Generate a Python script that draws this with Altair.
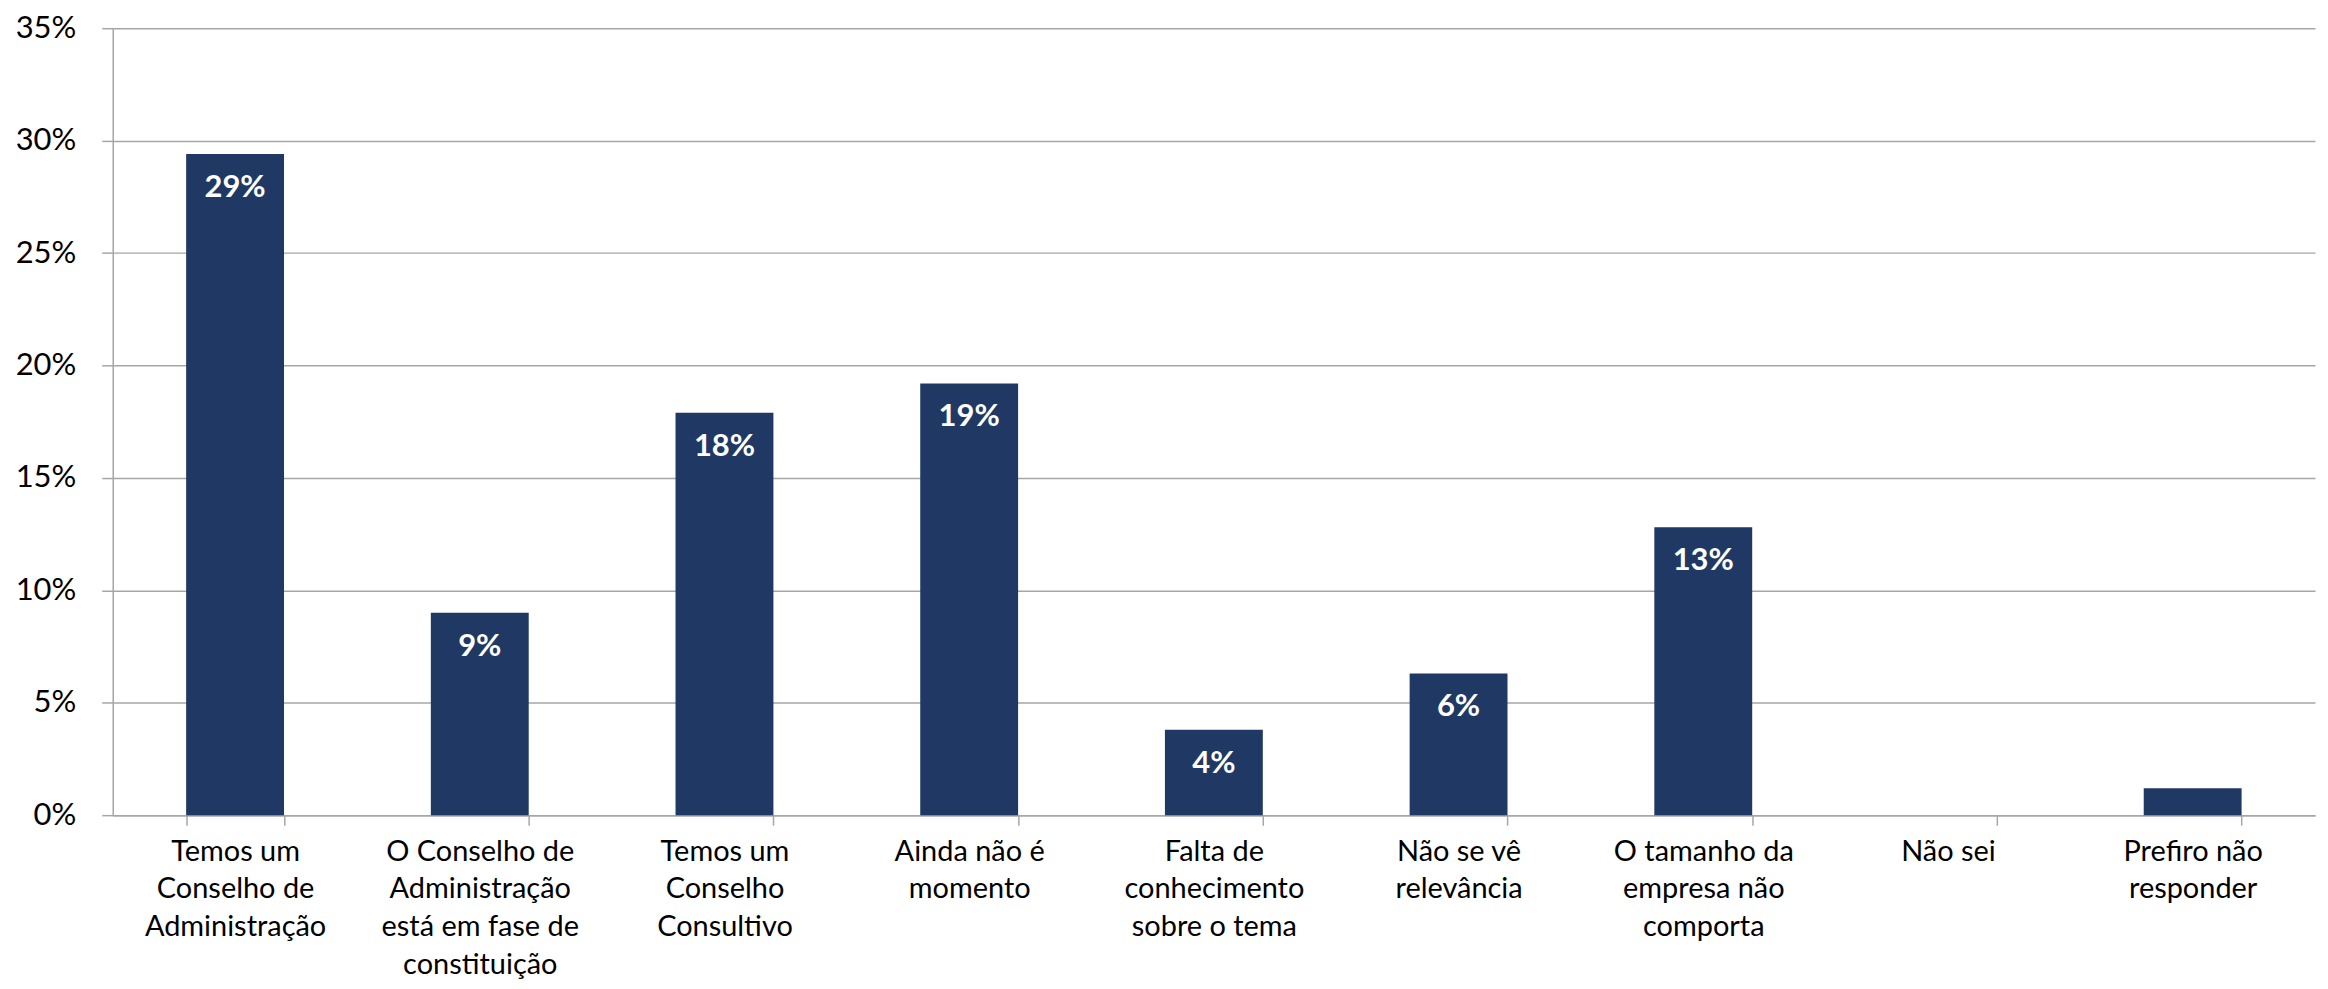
import altair as alt
import pandas as pd

categories = [
    "Temos um\nConselho de\nAdministração",
    "O Conselho de\nAdministração\nestá em fase de\nconstituição",
    "Temos um\nConselho\nConsultivo",
    "Ainda não é\nmomento",
    "Falta de\nconhecimento\nsobre o tema",
    "Não se vê\nrelevância",
    "O tamanho da\nempresa não\ncomporta",
    "Não sei",
    "Prefiro não\nresponder",
]
values = [29.4, 9.0, 17.9, 19.2, 3.8, 6.3, 12.8, 0.0, 1.2]
value_labels = ["29%", "9%", "18%", "19%", "4%", "6%", "13%", "", "1%"]
y_ticks = [0, 5, 10, 15, 20, 25, 30, 35]

df = pd.DataFrame({"cat": categories, "val": values, "lab": value_labels})

FONT = "Lato"
GRID = "#a6a6a6"

x_enc = alt.X(
    "cat:N",
    sort=categories,
    scale=alt.Scale(paddingInner=0.6, paddingOuter=0.3),
    axis=alt.Axis(
        title=None,
        labelAngle=0,
        labelExpr="split(datum.label, '\\n')",
        labelFont=FONT,
        labelFontSize=29,
        labelLineHeight=38,
        labelColor="#000000",
        labelPadding=12,
        labelBaseline="top",
        labelLimit=400,
        domainColor=GRID,
        domainWidth=1.5,
        tickColor=GRID,
        tickWidth=1.5,
        tickSize=10,
        tickBand="extent",
        grid=False,
    ),
)

y_enc = alt.Y(
    "val:Q",
    scale=alt.Scale(domain=[0, 35], nice=False),
    axis=alt.Axis(
        title=None,
        values=y_ticks,
        labelExpr="datum.value + '%'",
        labelFont=FONT,
        labelFontSize=31,
        labelColor="#000000",
        labelPadding=26,
        domainColor=GRID,
        domainWidth=1.5,
        tickColor=GRID,
        tickWidth=1.5,
        tickSize=11,
        gridColor=GRID,
        gridWidth=1.5,
    ),
)

bars = alt.Chart(df).mark_bar(color="#203864").encode(x=x_enc, y=y_enc)

labels_in = (
    alt.Chart(df)
    .transform_filter("datum.val >= 2")
    .mark_text(color="white", font=FONT, fontWeight="bold", fontSize=31, baseline="middle", dy=34)
    .encode(x=alt.X("cat:N", sort=categories), y="val:Q", text="lab:N")
)

labels_small = (
    alt.Chart(df)
    .transform_filter("datum.val > 0 && datum.val < 2")
    .mark_text(color="white", font=FONT, fontWeight="bold", fontSize=31, baseline="middle", dy=-10)
    .encode(x=alt.X("cat:N", sort=categories), y="val:Q", text="lab:N")
)

chart = (
    alt.layer(bars, labels_in, labels_small)
    .properties(
        width=2208,
        height=789,
        autosize=alt.AutoSizeParams(type="none"),
        padding={"left": 105, "top": 19, "right": 5, "bottom": 165},
    )
    .configure_view(strokeWidth=0)
)

chart.save("out.html", embed_options={"renderer": "svg", "actions": False})
